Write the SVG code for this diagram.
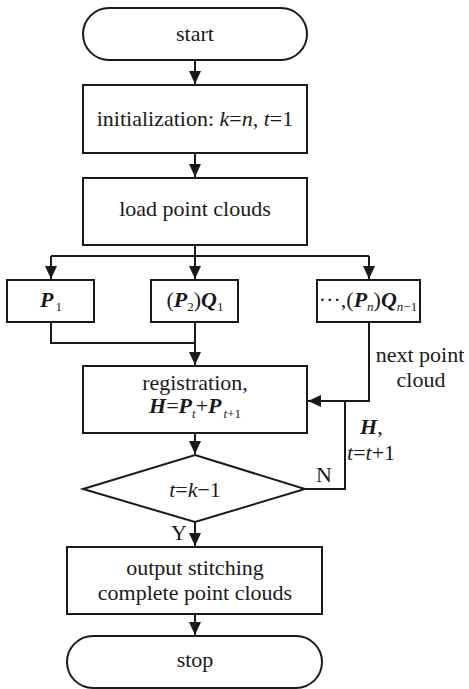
<svg xmlns="http://www.w3.org/2000/svg" width="469" height="689" viewBox="0 0 469 689">
<defs>
<marker id="ah" markerUnits="userSpaceOnUse" markerWidth="14" markerHeight="14" viewBox="0 0 14 14" refX="13" refY="7" orient="auto">
<path d="M0,1 L13,7 L0,13 Z" fill="#1a1a1a"/>
</marker>
<style>
.s{fill:#fff;stroke:#1a1a1a;stroke-width:2}
.c{fill:none;stroke:#1a1a1a;stroke-width:2}
text{font-family:"Liberation Serif","Times New Roman",serif;font-size:22px;fill:#1a1a1a}
.m{text-anchor:middle}
.i{font-style:italic}
.b{font-style:italic;font-weight:bold}
.sub{font-size:13px}
</style>
</defs>
<rect width="469" height="689" fill="#fff"/>
<g id="connectors">
<path class="c" d="M195,60 V84" marker-end="url(#ah)"/>
<path class="c" d="M195,153 V177" marker-end="url(#ah)"/>
<path class="c" d="M195,245 V256 M51,256 H369"/>
<path class="c" d="M51,256 V279" marker-end="url(#ah)"/>
<path class="c" d="M195,256 V279" marker-end="url(#ah)"/>
<path class="c" d="M369,256 V279" marker-end="url(#ah)"/>
<path class="c" d="M51,322 V343 H195"/>
<path class="c" d="M195,322 V365" marker-end="url(#ah)"/>
<path class="c" d="M369,322 V401 H308" marker-end="url(#ah)"/>
<path class="c" d="M305,489 H345 V401"/>
<path class="c" d="M195,433 V454" marker-end="url(#ah)"/>
<path class="c" d="M195,522 V546" marker-end="url(#ah)"/>
<path class="c" d="M195,614 V635" marker-end="url(#ah)"/>
<text x="420" y="362" class="m">next point</text>
<text x="421" y="387" class="m">cloud</text>
<text x="360" y="434"><tspan class="b">H</tspan>,</text>
<text x="347" y="460"><tspan class="i">t</tspan>=<tspan class="i">t</tspan>+1</text>
<text x="316" y="482">N</text>
<text x="171" y="540">Y</text>
</g>
<g id="start">
<rect class="s" x="83" y="8" width="224" height="52" rx="26"/>
<text x="195" y="41" class="m">start</text>
</g>
<g id="init">
<rect class="s" x="83" y="85" width="224" height="68"/>
<text x="195" y="126" class="m">initialization: <tspan class="i">k</tspan>=<tspan class="i">n</tspan>, <tspan class="i">t</tspan>=1</text>
</g>
<g id="load">
<rect class="s" x="83" y="178" width="224" height="67"/>
<text x="195" y="216" class="m">load point clouds</text>
</g>
<g id="p1">
<rect class="s" x="7" y="280" width="87" height="42"/>
<text x="51" y="307" class="m"><tspan class="b">P</tspan><tspan class="sub" dx="2" dy="4">1</tspan></text>
</g>
<g id="p2q1">
<rect class="s" x="151" y="280" width="87" height="42"/>
<text x="195" y="307" class="m">(<tspan class="b">P</tspan><tspan class="sub" dy="4">2</tspan><tspan dy="-4">)</tspan><tspan class="b">Q</tspan><tspan class="sub" dy="4">1</tspan></text>
</g>
<g id="pnqn">
<rect class="s" x="317" y="280" width="103" height="42"/>
<text x="368" y="307" class="m"><tspan dy="-6">…</tspan><tspan dy="6">,(</tspan><tspan class="b">P</tspan><tspan class="sub i" dy="4">n</tspan><tspan dy="-4">)</tspan><tspan class="b">Q</tspan><tspan class="sub i" dy="4">n</tspan><tspan class="sub">−1</tspan></text>
</g>
<g id="registration">
<rect class="s" x="83" y="366" width="224" height="67"/>
<text x="195" y="390" class="m">registration,</text>
<text x="195" y="413" class="m"><tspan class="b">H</tspan>=<tspan class="b">P</tspan><tspan class="sub i" dy="5">t</tspan><tspan dy="-5">+</tspan><tspan class="b">P</tspan><tspan class="sub" dy="5" dx="2"><tspan class="i">t</tspan>+1</tspan></text>
</g>
<g id="decision">
<polygon class="s" points="195,455 305,489 195,522 83,489"/>
<text x="195" y="497" class="m"><tspan class="i">t</tspan>=<tspan class="i">k</tspan>−1</text>
</g>
<g id="output">
<rect class="s" x="67" y="547" width="255" height="67"/>
<text x="195" y="575" class="m">output stitching</text>
<text x="195" y="600" class="m">complete point clouds</text>
</g>
<g id="stop">
<rect class="s" x="67" y="636" width="255" height="52" rx="26"/>
<text x="195" y="667" class="m">stop</text>
</g>
</svg>
